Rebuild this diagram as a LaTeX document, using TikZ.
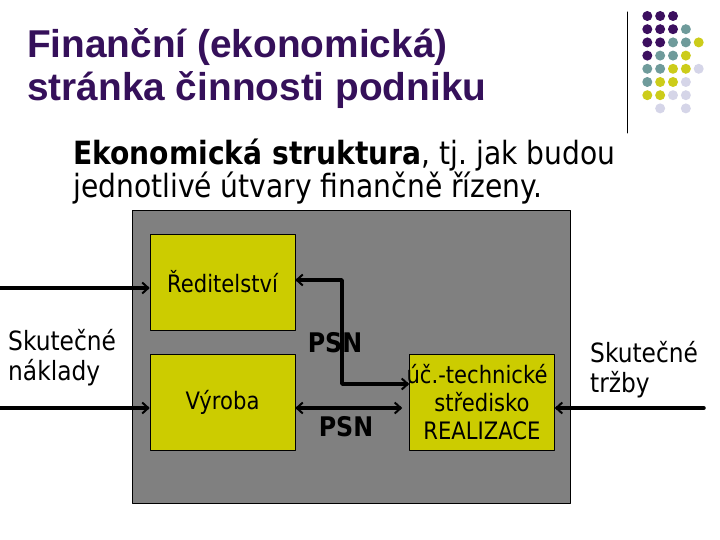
\documentclass[tikz,border=0pt]{standalone}
\usepackage{fontspec}
\setmainfont{Liberation Sans}
\newfontfamily\tahoma[FakeStretch=0.88]{DejaVu Sans}
\usetikzlibrary{arrows.meta}
\frenchspacing
\definecolor{titlepurple}{HTML}{35105A}
\definecolor{boxyellow}{HTML}{CCCC00}
\definecolor{panelgray}{HTML}{808080}
\definecolor{dotP}{HTML}{3C0F5F}
\definecolor{dotT}{HTML}{6F9B9B}
\definecolor{dotY}{HTML}{CCCC1A}
\definecolor{dotL}{HTML}{D5D5E8}
\tikzset{
  unit/.style={draw=black,line width=0.6pt,fill=boxyellow,minimum width=145pt,minimum height=96pt,inner sep=0pt,font=\tahoma\fontsize{24}{28}\selectfont,align=center},
  flow/.style={line width=3.5pt,-{Straight Barb[length=6pt,width=11pt,line width=2pt]}},
  both/.style={line width=3.5pt,{Straight Barb[length=6pt,width=11pt,line width=2pt]}-{Straight Barb[length=6pt,width=11pt,line width=2pt]}},
  side/.style={font=\tahoma\fontsize{26.5}{30}\selectfont,align=left,inner sep=0pt},
  psn/.style={font=\tahoma\bfseries\fontsize{27}{30}\selectfont,inner sep=0pt},
  heading/.style={anchor=base west,inner sep=0pt,text=titlepurple,font=\bfseries\fontsize{38.8}{43}\selectfont},
  lead/.style={anchor=base west,inner sep=0pt,font=\tahoma\fontsize{32}{33}\selectfont}
}
\begin{document}
\begin{tikzpicture}[x=1pt,y=-1pt,line cap=round,line join=round]
  \useasboundingbox (0,0) rectangle (720,540);
  \node[heading] (title1) at (27,58) {Finanční (ekonomická)};
  \node[heading] (title2) at (27,101) {stránka činnosti podniku};
  \draw[line width=1pt] (627,12) -- (627,133);
  \foreach \r/\list in {0/{P,P,P},1/{P,P,P,T},2/{P,P,T,T,Y},3/{P,T,T,Y},4/{T,T,Y,Y,L},5/{T,Y,Y,L},6/{Y,Y,L,L},7/{N,L,N,L}} {
    \foreach \c [count=\i from 0] in \list {
      \if\c N\else
        \fill[dot\c] (647.3+12.85*\i,16+13.2*\r) circle (5);
      \fi
    }
  }
  \node[lead] (lead1) at (73,165) {\textbf{Ekonomická struktura}, tj. jak budou};
  \node[lead] (lead2) at (73,198) {jednotlivé útvary finančně řízeny.};
  \fill[panelgray,draw=black,line width=0.6pt] (132,210) rectangle (570,503);
  \node[unit] (dir) at (222.5,282) {Ředitelství};
  \node[unit] (vyr) at (222.5,402) {Výroba};
  \node[unit] (real) at (482,402) {\hspace*{-10pt}úč.-technické\\středisko\\REALIZACE};
  \coordinate (costA) at (0,288);
  \coordinate (costB) at (0,408);
  \coordinate (sales) at (704,408);
  \coordinate (bend) at (342,384);
  \draw[flow] (costA) -- (costA -| dir.west);
  \draw[flow] (costB) -- (costB -| vyr.west);
  \draw[flow] (sales) -- (sales -| real.east);
  \draw[both] (dir.east |- 0,280) -| (bend) -- (bend -| real.west);
  \draw[both,shorten >=7pt] (vyr.east |- 0,408) -- (real.west |- 0,408);
  \node[psn] (psnA) at (335,343) {PSN};
  \node[psn] (psnB) at (346,427) {PSN};
  \node[side,anchor=base west] (costs) at (8,380) {Skutečné\\náklady};
  \node[side,anchor=base west] (revenue) at (590,392) {Skutečné\\tržby};
\end{tikzpicture}
\end{document}
